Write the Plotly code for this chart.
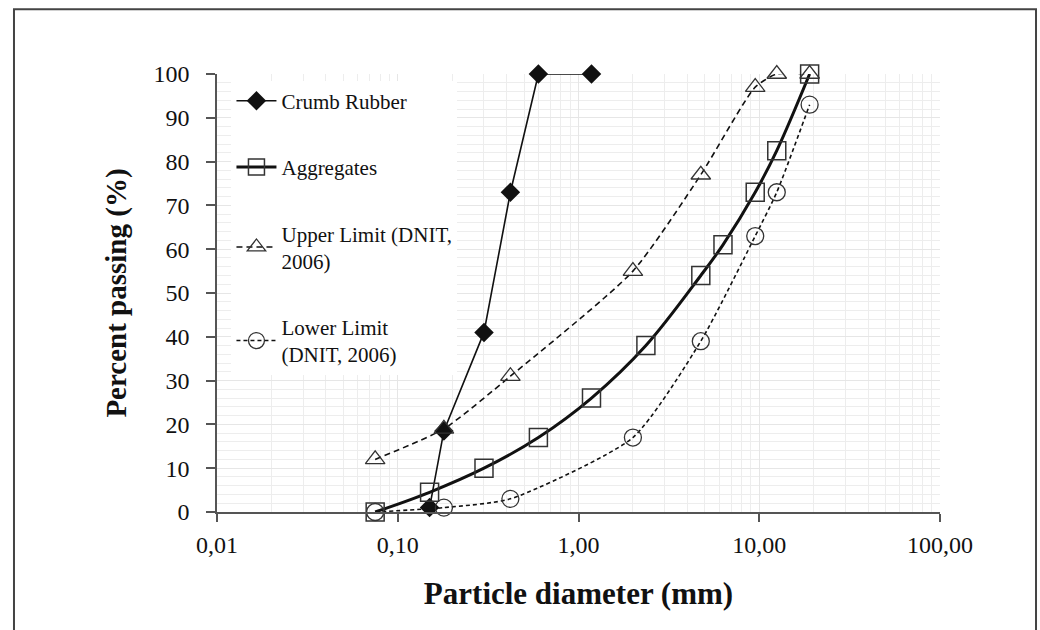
import plotly.graph_objects as go

# ---- data ----
crumb_x = [0.15, 0.18, 0.30, 0.42, 0.60, 1.18]
crumb_y = [1, 18.5, 41, 73, 100, 100]

agg_x = [0.075, 0.15, 0.30, 0.60, 1.18, 2.36, 4.75, 6.3, 9.5, 12.5, 19.0]
agg_y = [0, 4.5, 10, 17, 26, 38, 54, 61, 73, 82.5, 100]

upper_x = [0.075, 0.18, 0.42, 2.0, 4.75, 9.5, 12.5, 19.0]
upper_y = [12, 19, 31, 55, 77, 97, 100, 100]

lower_x = [0.075, 0.18, 0.42, 2.0, 4.75, 9.5, 12.5, 19.0]
lower_y = [0, 1, 3, 17, 39, 63, 73, 93]

x_tickvals = [0.01, 0.1, 1, 10, 100]
x_ticktext = ["0,01", "0,10", "1,00", "10,00", "100,00"]
y_tickvals = [0, 10, 20, 30, 40, 50, 60, 70, 80, 90, 100]

FONT = "Liberation Serif, Times New Roman, serif"
INK = "#111111"
MARK = "#333333"

fig = go.Figure()

fig.add_trace(go.Scatter(
    x=crumb_x, y=crumb_y, name="Crumb Rubber", legendgroup="a",
    mode="lines+markers", cliponaxis=False,
    line=dict(color=INK, width=1.6),
    marker=dict(symbol="diamond", size=15, color=INK),
))
fig.add_trace(go.Scatter(
    x=agg_x, y=agg_y, name="Aggregates", legendgroup="b",
    mode="lines+markers", cliponaxis=False,
    line=dict(color=INK, width=3, shape="spline", smoothing=1.0),
    marker=dict(symbol="square-open", size=18, color=MARK, line=dict(width=1.5)),
))
fig.add_trace(go.Scatter(
    x=upper_x, y=upper_y, name="Upper Limit (DNIT,<br>2006)", legendgroup="c",
    mode="lines+markers", cliponaxis=False,
    line=dict(color=INK, width=1.6, dash="6px,4px", shape="spline", smoothing=0.6),
    marker=dict(symbol="triangle-up-open", size=17, color=MARK, line=dict(width=1.3)),
))
fig.add_trace(go.Scatter(
    x=lower_x, y=lower_y, name="Lower Limit<br>(DNIT, 2006)", legendgroup="d",
    mode="lines+markers", cliponaxis=False,
    line=dict(color=INK, width=1.6, dash="4px,3px", shape="spline", smoothing=0.6),
    marker=dict(symbol="circle-open", size=17, color=MARK, line=dict(width=1.3)),
))

fig.update_layout(
    width=1040, height=630,
    margin=dict(l=217, r=100, t=74, b=118),
    paper_bgcolor="white", plot_bgcolor="white",
    font=dict(family=FONT, color=INK, size=20),
    legend=dict(
        x=0.02, y=0.985, xanchor="left", yanchor="top",
        bgcolor="white", borderwidth=0,
        font=dict(family=FONT, size=21, color=INK),
        tracegroupgap=36, itemwidth=40,
    ),
    shapes=[dict(
        type="rect", xref="paper", yref="paper",
        x0=-0.2808, x1=1.1328, y0=-0.30, y1=1.148,
        line=dict(color="#444444", width=2), fillcolor="rgba(0,0,0,0)",
        layer="below",
    )],
)

fig.update_xaxes(
    type="log", range=[-2, 2],
    tickvals=x_tickvals, ticktext=x_ticktext,
    tickfont=dict(family=FONT, size=24, color=INK),
    ticks="outside", ticklen=8, tickcolor="#555555", tickwidth=1.5,
    ticklabelstandoff=2,
    showline=True, linecolor="#555555", linewidth=1.5, mirror=False,
    showgrid=True, gridcolor="#e6e6e6", gridwidth=1,
    minor=dict(showgrid=True, gridcolor="#ededed", gridwidth=1, dtick="D1", ticks=""),
    zeroline=False,
    title=dict(text="<b>Particle diameter (mm)</b>",
               font=dict(family=FONT, size=31, color=INK), standoff=26),
)
fig.update_yaxes(
    range=[0, 100], tickvals=y_tickvals,
    tickfont=dict(family=FONT, size=24, color=INK),
    ticks="outside", ticklen=9, tickcolor="#555555", tickwidth=1.5,
    ticklabelstandoff=12,
    showline=True, linecolor="#555555", linewidth=1.5, mirror=False,
    showgrid=True, gridcolor="#e6e6e6", gridwidth=1,
    minor=dict(showgrid=True, gridcolor="#ededed", gridwidth=1, dtick=2, ticks=""),
    zeroline=False,
    title=dict(text="<b>Percent passing (%)</b>",
               font=dict(family=FONT, size=29, color=INK), standoff=18),
)

fig.write_html("out.html")
